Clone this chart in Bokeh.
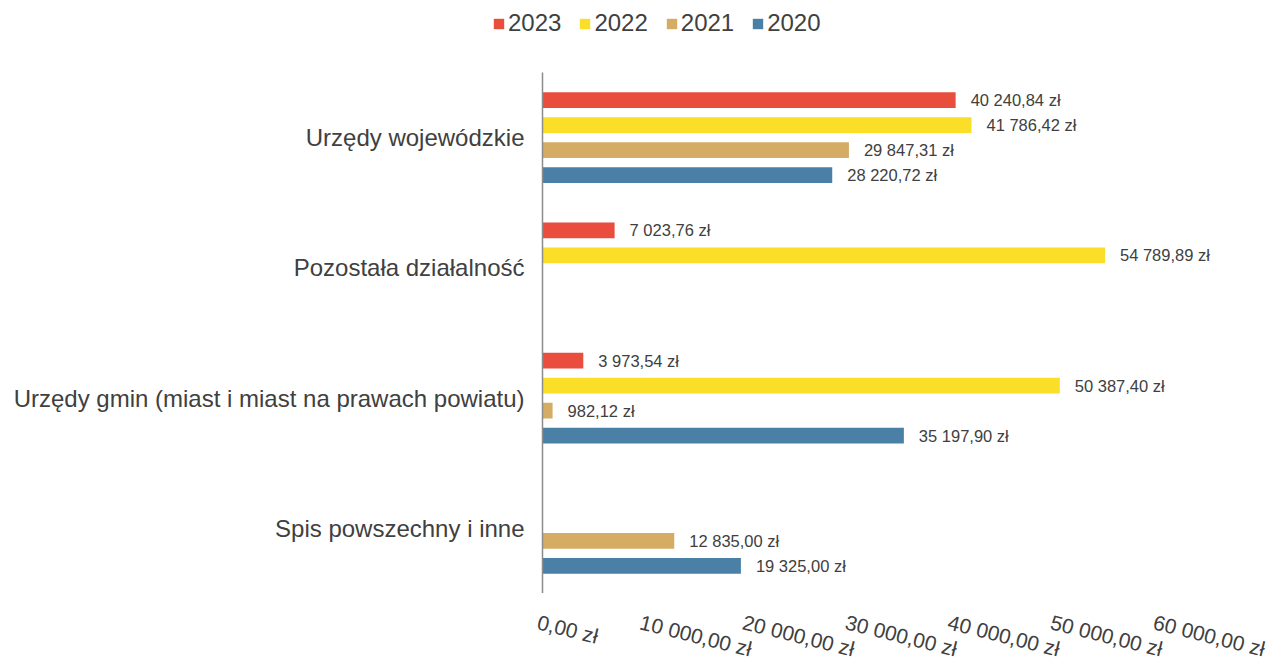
from bokeh.plotting import figure
from bokeh.layouts import column, row
from bokeh.models import ColumnDataSource, FactorRange, Legend, LegendItem, Range1d
from bokeh.transform import dodge
from bokeh.core.properties import value
from bokeh.embed import file_html
from bokeh.resources import INLINE

categories = ["Urzędy wojewódzkie", "Pozostała działalność",
              "Urzędy gmin (miast i miast na prawach powiatu)", "Spis powszechny i inne"]
years = ["2023", "2022", "2021", "2020"]
v2023 = [40240.84, 7023.76, 3973.54, None]
v2022 = [41786.42, 54789.89, 50387.40, None]
v2021 = [29847.31, None, 982.12, 12835.00]
v2020 = [28220.72, None, 35197.90, 19325.00]
tick_values = [0, 10000, 20000, 30000, 40000, 50000, 60000]
tick_labels = ["0,00 zł", "10 000,00 zł", "20 000,00 zł", "30 000,00 zł",
               "40 000,00 zł", "50 000,00 zł", "60 000,00 zł"]

colors = ["#E84D3D", "#FADE28", "#D4AC64", "#4A7FA6"]
offsets = [0.2876, 0.0959, -0.0959, -0.2876]
series = [v2023, v2022, v2021, v2020]

FONT = "Liberation Sans"
TXT = "#404040"


def fmt(v):
    s = f"{v:,.2f}"
    s = s.replace(",", " ").replace(".", ",")
    return s + " zł"


W = 1270
H_LEG, H_MAIN, H_TICK = 72, 521, 67
LEFT = 542
ppu = 616 / 60000.0
x_end = (W - LEFT) / ppu


def clean(fig):
    fig.outline_line_color = None
    fig.xgrid.visible = False
    fig.ygrid.visible = False


# ---- main chart ----
p = figure(width=W, height=H_MAIN, output_backend="svg", toolbar_location=None,
           y_range=FactorRange(factors=list(reversed(categories)), range_padding=0),
           x_range=Range1d(0, x_end),
           min_border_left=LEFT, min_border_right=0, min_border_top=0, min_border_bottom=0)
clean(p)
p.xaxis.visible = False

for yr, vals, col, off in zip(years, series, colors, offsets):
    cats = [c for c, v in zip(categories, vals) if v is not None]
    vv = [v for v in vals if v is not None]
    src = ColumnDataSource(dict(cat=cats, val=vv, lab=[fmt(v) for v in vv]))
    p.hbar(y=dodge("cat", off, range=p.y_range), right="val", left=0, height=0.12,
           source=src, fill_color=col, line_color=None)
    p.text(x="val", y=dodge("cat", off, range=p.y_range), text="lab", source=src,
           x_offset=15, text_baseline="middle", text_align="left",
           text_font=value(FONT), text_font_size="16.5px", text_color=TXT)

ya = p.yaxis[0]
ya.axis_line_color = "#8c8c8c"
ya.axis_line_width = 1.5
ya.major_tick_line_color = None
ya.minor_tick_line_color = None
ya.major_tick_out = 0
ya.major_label_standoff = 18
ya.major_label_text_font = FONT
ya.major_label_text_font_size = "24px"
ya.major_label_text_color = TXT

# ---- legend strip ----
leg = figure(width=W, height=H_LEG, output_backend="svg", toolbar_location=None,
             x_range=Range1d(0, 1), y_range=Range1d(0, 1),
             min_border_left=0, min_border_right=0, min_border_top=0, min_border_bottom=0)
clean(leg)
leg.xaxis.visible = False
leg.yaxis.visible = False
leg_items = []
for yr, col in zip(years, colors):
    # legend swatch glyph, kept outside the visible range of this strip
    r = leg.hbar(y=[-5], right=[-5], left=-6, height=0.1, fill_color=col, line_color=None)
    leg_items.append(LegendItem(label=yr, renderers=[r]))
legend = Legend(items=leg_items, orientation="horizontal", location=(492, 35),
                glyph_width=13, glyph_height=13, label_standoff=3, spacing=17,
                padding=0, margin=0, border_line_color=None, background_fill_alpha=0,
                label_text_font=FONT, label_text_font_size="24px", label_text_color=TXT,
                label_height=24)
leg.add_layout(legend, "center")

# ---- x tick labels strip (same x scale as the chart) ----
T_LEFT = 500
tk = figure(width=W, height=H_TICK, output_backend="svg", toolbar_location=None,
            x_range=Range1d(-(LEFT - T_LEFT) / ppu, x_end), y_range=Range1d(H_TICK, 0),
            min_border_left=T_LEFT, min_border_right=0, min_border_top=0, min_border_bottom=0)
clean(tk)
tk.xaxis.visible = False
tk.yaxis.visible = False
tsrc = ColumnDataSource(dict(x=tick_values, lab=tick_labels, y=[17] * len(tick_values)))
tk.text(x="x", y="y", text="lab", source=tsrc, angle=-0.245, x_offset=-2,
        text_align="left", text_baseline="top",
        text_font=value(FONT), text_font_size="21px", text_color=TXT)

layout = column(row(leg), p, row(tk), spacing=0)
open("out.html", "w").write(file_html(layout, INLINE))
